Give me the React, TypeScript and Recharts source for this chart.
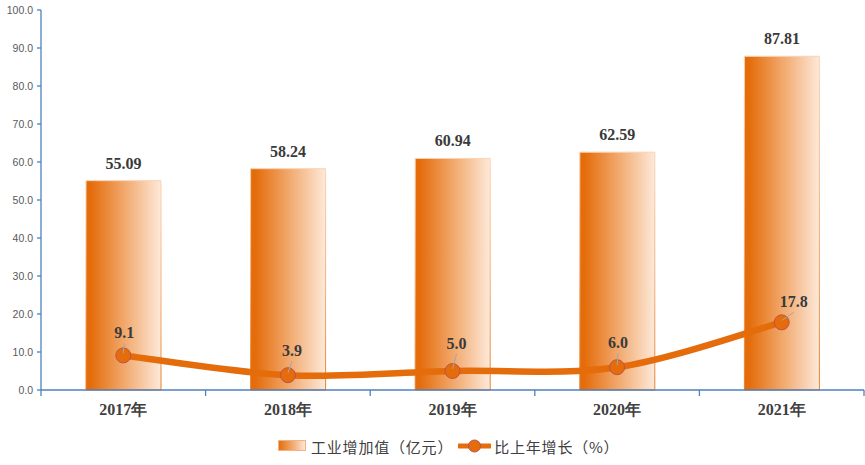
import React from 'react';
import { ComposedChart, Bar, Line, XAxis, YAxis, LabelList, Legend } from 'recharts';

const years = ['2017年', '2018年', '2019年', '2020年', '2021年'];
const addedValue = [55.09, 58.24, 60.94, 62.59, 87.81];
const growthRate = [9.1, 3.9, 5.0, 6.0, 17.8];
const yTicks = [0, 10, 20, 30, 40, 50, 60, 70, 80, 90, 100];

const data = years.map((year, i) => ({ year, value: addedValue[i], growth: growthRate[i] }));

// label nudges for the growth labels (dx, gap above the point)
const LABEL_NUDGE = [
  [1, 17],
  [4, 19],
  [4, 22],
  [1, 19],
  [12, 15],
];

const ORANGE = '#E46C0A';
const AXIS_BLUE = '#4F81BD';
const SERIF = '"Liberation Serif", "Times New Roman", serif';
const CJK = '"Noto Sans CJK SC", "Noto Sans", sans-serif';
const X_TICK_SIZE = 6;
const X_TICK_MARGIN = 8;

const catmullRom = (context: any) => {
  let pts: [number, number][] = [];
  return {
    areaStart() {},
    areaEnd() {},
    lineStart() {
      pts = [];
    },
    point(x: number, y: number) {
      pts.push([+x, +y]);
    },
    lineEnd() {
      const n = pts.length;
      if (!n) return;
      context.moveTo(pts[0][0], pts[0][1]);
      for (let i = 0; i < n - 1; i++) {
        const p0 = pts[i - 1] || pts[i];
        const p1 = pts[i];
        const p2 = pts[i + 1];
        const p3 = pts[i + 2] || p2;
        context.bezierCurveTo(
          p1[0] + (p2[0] - p0[0]) / 6,
          p1[1] + (p2[1] - p0[1]) / 6,
          p2[0] - (p3[0] - p1[0]) / 6,
          p2[1] - (p3[1] - p1[1]) / 6,
          p2[0],
          p2[1]
        );
      }
    },
  };
};

// category tick: label at band centre, tick marks at band boundaries
const YearTick = (props: any) => {
  const { x, y, payload, index, visibleTicksCount } = props;
  const half = payload && payload.offset ? payload.offset : 0;
  const axisY = y - X_TICK_SIZE - X_TICK_MARGIN;
  const isLast = index === (visibleTicksCount ?? years.length) - 1;
  return (
    <g>
      <line x1={x - half} y1={axisY} x2={x - half} y2={axisY + X_TICK_SIZE} stroke={AXIS_BLUE} strokeWidth={1.3} />
      {isLast && (
        <line x1={x + half} y1={axisY} x2={x + half} y2={axisY + X_TICK_SIZE} stroke={AXIS_BLUE} strokeWidth={1.3} />
      )}
      <text
        x={x}
        y={y}
        dy="0.71em"
        textAnchor="middle"
        fontFamily={SERIF}
        fontWeight="bold"
        fontSize={16}
        fill="#404040"
      >
        {payload.value}
      </text>
    </g>
  );
};

const GrowthLabel = (props: any) => {
  const { x, y, value, index } = props;
  const [dx, gap] = LABEL_NUDGE[index] || [0, 18];
  const lx = x + dx;
  const baseline = y - gap;
  return (
    <g>
      <line x1={lx} y1={baseline + 5} x2={x} y2={y - 2} stroke="#A6A6A6" strokeWidth={1} />
      <text
        x={lx}
        y={baseline}
        textAnchor="middle"
        fontFamily={SERIF}
        fontWeight="bold"
        fontSize={16}
        fill="#3A3A3A"
      >
        {Number(value).toFixed(1)}
      </text>
    </g>
  );
};

const renderLegend = () => (
  <div
    style={{
      display: 'flex',
      alignItems: 'center',
      height: 44,
      paddingTop: 6,
      boxSizing: 'border-box',
      paddingLeft: 278,
      fontFamily: CJK,
      fontSize: 15,
      color: '#404040',
      letterSpacing: 0.8,
      whiteSpace: 'nowrap',
    }}
  >
    <svg width={29} height={12} style={{ display: 'block' }}>
      <defs>
        <linearGradient id="legGrad" x1="0" y1="0" x2="1" y2="0">
          <stop offset="0" stopColor={ORANGE} />
          <stop offset="0.5" stopColor="#F1A76A" />
          <stop offset="1" stopColor="#FDE9D9" />
        </linearGradient>
      </defs>
      <rect x={0.5} y={0.5} width={27} height={10} fill="url(#legGrad)" stroke="#F4B183" strokeWidth={1} />
    </svg>
    <span style={{ marginLeft: 4 }}>工业增加值（亿元）</span>
    <svg width={33} height={14} style={{ display: 'block', marginLeft: 5 }}>
      <line x1={1} y1={7} x2={32} y2={7} stroke={ORANGE} strokeWidth={5} strokeLinecap="round" />
      <circle cx={16.5} cy={7} r={6} fill={ORANGE} stroke="#C0504D" strokeWidth={1} />
    </svg>
    <span style={{ marginLeft: 3 }}>比上年增长（%）</span>
  </div>
);

export default function App() {
  return (
    <div style={{ position: 'absolute', left: 0, top: 0, background: '#fff' }}>
      <ComposedChart width={865} height={465} data={data} margin={{ top: 10, right: 1, left: 0, bottom: 0 }}>
        <defs>
          <linearGradient id="barGrad" x1="0" y1="0" x2="1" y2="0">
            <stop offset="0" stopColor={ORANGE} />
            <stop offset="0.06" stopColor={ORANGE} />
            <stop offset="0.5" stopColor="#F1A76A" />
            <stop offset="1" stopColor="#FDE9D9" />
          </linearGradient>
          <linearGradient id="barStroke" x1="0" y1="0" x2="0" y2="1">
            <stop offset="0" stopColor="#FAD3B2" />
            <stop offset="0.5" stopColor="#F3B080" />
            <stop offset="1" stopColor="#E8802A" />
          </linearGradient>
        </defs>
        <XAxis
          dataKey="year"
          height={31}
          axisLine={{ stroke: AXIS_BLUE, strokeWidth: 1.3 }}
          tickLine={false}
          tickSize={X_TICK_SIZE}
          tickMargin={X_TICK_MARGIN}
          interval={0}
          tick={<YearTick />}
        />
        <YAxis
          width={41}
          domain={[0, 100]}
          ticks={yTicks}
          tickFormatter={(v: number) => v.toFixed(1)}
          axisLine={{ stroke: AXIS_BLUE, strokeWidth: 1.3 }}
          tickLine={{ stroke: AXIS_BLUE, strokeWidth: 1.3 }}
          tickSize={4}
          tickMargin={4}
          tick={{ fontFamily: '"Liberation Sans", Arial, sans-serif', fontSize: 10.5, fill: '#595959' }}
        />
        <Legend verticalAlign="bottom" content={renderLegend} wrapperStyle={{ left: 0, width: 865, bottom: 0 }} />
        <Bar
          dataKey="value"
          name="工业增加值（亿元）"
          barSize={75}
          fill="url(#barGrad)"
          stroke="url(#barStroke)"
          strokeWidth={1}
          isAnimationActive={false}
        >
          <LabelList
            dataKey="value"
            position="top"
            offset={12}
            formatter={(v: any) => Number(v).toFixed(2)}
            style={{ fontFamily: SERIF, fontWeight: 'bold', fontSize: 16, fill: '#3A3A3A' }}
          />
        </Bar>
        <Line
          dataKey="growth"
          name="比上年增长（%）"
          type={catmullRom as any}
          stroke={ORANGE}
          strokeWidth={6.5}
          dot={{ r: 7.5, fill: ORANGE, stroke: '#C0504D', strokeWidth: 1 }}
          activeDot={false}
          isAnimationActive={false}
        >
          <LabelList dataKey="growth" content={<GrowthLabel />} />
        </Line>
      </ComposedChart>
    </div>
  );
}
